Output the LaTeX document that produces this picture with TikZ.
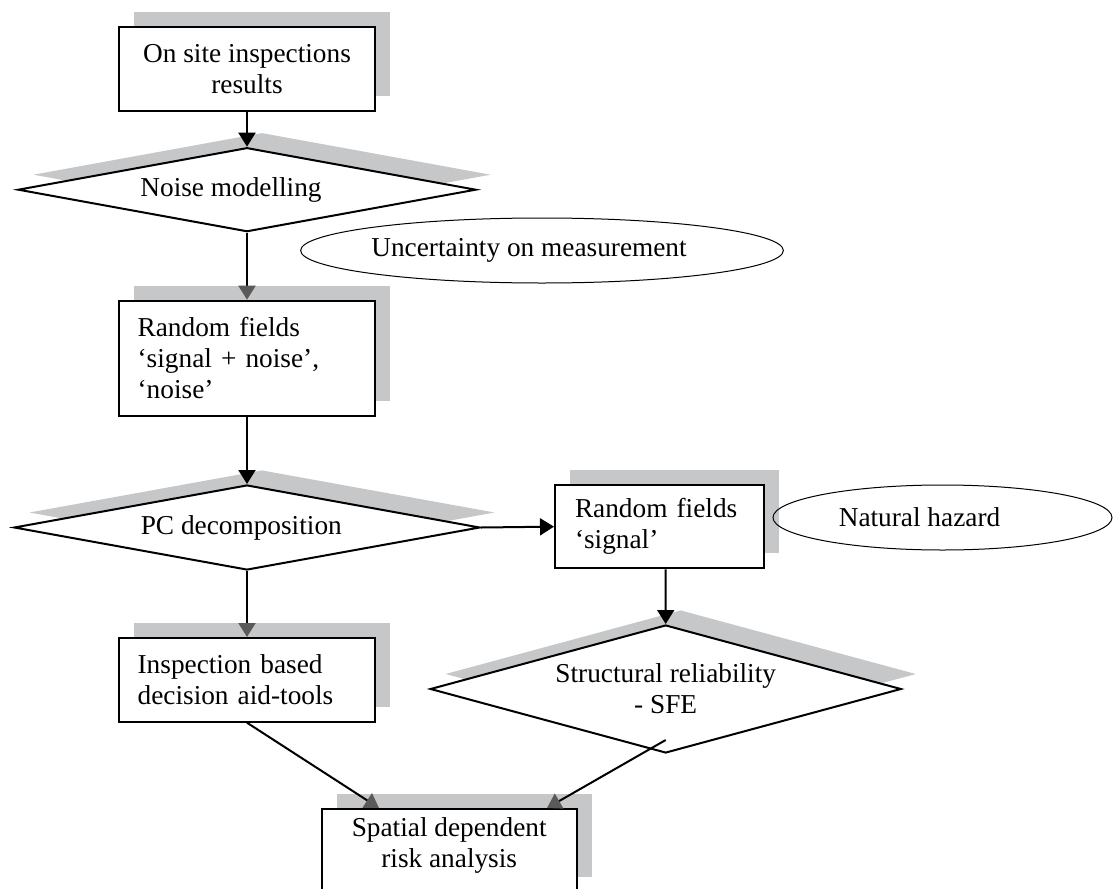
\documentclass[tikz,border=0pt]{standalone}
\usepackage{fontspec}
\setmainfont{Liberation Serif}
\usetikzlibrary{shapes.geometric,shadows,arrows.meta}
\definecolor{shadowgray}{RGB}{198,199,201}
\definecolor{tipgray}{RGB}{90,90,90}
\begin{document}
\begin{tikzpicture}[x=0.5pt,y=-0.5pt,
  font=\fontsize{13.65pt}{15.5pt}\selectfont,
  shd/.style={drop shadow={shadow xshift=7.5pt,shadow yshift=7.5pt,fill=shadowgray,opacity=1}},
  box/.style={rectangle,draw,line width=1pt,fill=white,inner sep=0pt,shd},
  dia/.style={diamond,draw,line width=1pt,fill=white,inner sep=0pt,shd},
  ell/.style={ellipse,draw,line width=0.5pt,inner sep=0pt},
  arr/.style={line width=1pt,-{Triangle[length=7pt,width=8.5pt]}},
  garr/.style={line width=1pt,-{Triangle[length=7pt,width=8.5pt,color=tipgray]}}
]
\clip (0,0) rectangle (1120,889);
\node[box,minimum width=127.65pt,minimum height=41.85pt,align=center] (onsite) at (247,68.85) {On site inspections\\results};
\node[dia,minimum width=229pt,minimum height=42pt,aspect=5.45] (noise) at (247,189.7) {Noise modelling\kern16pt};
\node[ell,minimum width=240pt,minimum height=32.5pt] (unc) at (542,250.5) {Uncertainty on measurement\kern13pt};
\node[box,text width=109.35pt,inner xsep=9.15pt,minimum height=57.5pt,align=left] (rf) at (247,358.2) {Random fields\\‘signal + noise’,\\‘noise’};
\node[dia,minimum width=233pt,minimum height=42.5pt,aspect=5.48] (pc) at (247,527.5) {PC decomposition\kern5.7pt};
\node[box,text width=84.5pt,inner xsep=10pt,minimum height=41.65pt,align=left] (sig) at (659.5,526.65) {Random fields\\‘signal’};
\node[ell,minimum width=169.5pt,minimum height=32.5pt] (nat) at (942.5,517.5) {Natural hazard\kern23pt};
\node[dia,minimum width=235.5pt,minimum height=64pt,aspect=3.68,align=center] (sfe) at (665.7,689) {Structural reliability\\- SFE};
\node[box,text width=109.35pt,inner xsep=9.15pt,minimum height=41.85pt,align=left] (insp) at (247,679.85) {Inspection based\\decision aid-tools};
\node[box,minimum width=127.5pt,minimum height=41.5pt,align=center] (spa) at (449.2,850.5) {Spatial dependent\\risk analysis\rule[-8pt]{0pt}{0pt}};
\coordinate (sfeout) at (665.7,740);
\draw[arr] (onsite.south) -- (noise.north);
\draw[garr] (noise.south) -- (rf.north);
\draw[arr] (rf.south) -- (pc.north);
\draw[arr] (pc.east) -- (sig.west);
\draw[arr] ([xshift=3.1pt]sig.south) -- (sfe.north);
\draw[garr] (pc.south) -- (insp.north);
\draw[garr] (insp.south) -- ([xshift=29.15pt]spa.north west);
\draw[garr] (sfeout) -- ([xshift=113.15pt]spa.north west);
\end{tikzpicture}
\end{document}
